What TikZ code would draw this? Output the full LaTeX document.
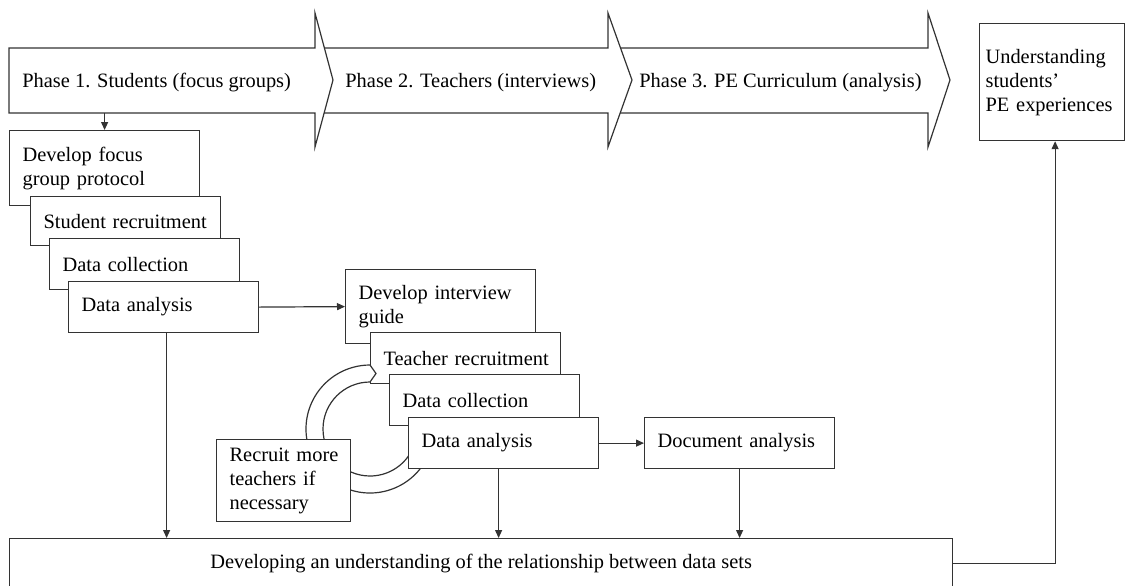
\documentclass[tikz,border=0pt]{standalone}
\usepackage{fontspec}
\setmainfont{Liberation Serif}
\usetikzlibrary{arrows.meta}

\begin{document}
\begin{tikzpicture}[
    x=0.5pt,
    y=-0.5pt,
    font=\fontsize{10.2}{12}\selectfont,
    stage/.style={
        draw=black!80,
        fill=white,
        line width=0.6pt,
        anchor=north west,
        align=left,
        inner xsep=6.5pt,
        inner ysep=0pt,
        text width=82pt,
        minimum height=25.5pt
    },
    band/.style={
        draw=black!80,
        fill=white,
        line width=0.6pt
    },
    phase/.style={
        anchor=west,
        inner sep=0pt
    },
    link/.style={
        -{Triangle[length=4pt,width=3.5pt]},
        line width=0.6pt,
        draw=black!80
    }
]
    \useasboundingbox (0,0) rectangle (1125,585);

    % Phase arrows (drawn back to front)
    \draw[band] (608,48) -- (928,48) -- (928,13) -- (950,80) -- (928,147) -- (928,113) -- (608,113) -- cycle;
    \draw[band] (315,48) -- (608,48) -- (608,13) -- (632,80) -- (608,147) -- (608,113) -- (315,113) -- cycle;
    \draw[band] (9,48) -- (315,48) -- (315,13) -- (333,80) -- (315,147) -- (315,113) -- (9,113) -- cycle;
    \node[phase] (ph1) at (22,83) {Phase 1. Students (focus groups)};
    \node[phase] (ph2) at (345,83) {Phase 2. Teachers (interviews)};
    \node[phase] (ph3) at (639,83) {Phase 3. PE Curriculum (analysis)};
    \coordinate (ph1b) at (105,113);

    % Outcome
    \node[stage, inner xsep=3pt, text width=66.5pt, minimum height=58.5pt] (under) at (979,23) {Understanding\\students'\\PE experiences};

    % Student steps
    \node[stage, minimum height=37.5pt] (focus) at (9,130) {Develop focus\\group protocol};
    \node[stage, minimum height=24.5pt] (srecruit) at (30,196) {\mbox{Student recruitment}};
    \node[stage] (scollect) at (49,238) {Data collection};
    \node[stage] (sanalyse) at (68,281) {Data analysis};

    % Teacher steps
    \node[stage, minimum height=37pt] (guide) at (345,269) {Develop interview\\guide};
    \node[stage] (trecruit) at (370,332) {\mbox{Teacher recruitment}};

    % Loop back to recruitment
    \coordinate (loopc) at (370,429);
    \draw[band] ([shift={(30:64)}]loopc) arc[start angle=30, end angle=270, radius=64]
        -- ++(6,8.5) -- ++(-6,8.5) arc[start angle=270, end angle=30, radius=47] -- cycle;

    \node[stage] (tcollect) at (389,374) {Data collection};
    \node[stage] (tanalyse) at (408,417) {Data analysis};
    \node[stage, text width=54pt, minimum height=41pt] (more) at (216,439) {\mbox{Recruit more}\\\mbox{teachers if}\\necessary};

    % Curriculum
    \node[stage] (docs) at (644,417) {Document analysis};

    % Combined data
    \node[band, anchor=north west, minimum width=471.5pt, minimum height=25pt] (combine) at (9,538) {Developing an understanding of the relationship between data sets};

    % Connections
    \draw[link] (focus.north |- ph1b) -- (focus.north);
    \draw[link] (sanalyse.east) -- (guide.west);
    \draw[link] (tanalyse.east) -- (docs.west);
    \draw[link] ([xshift=1.5pt]sanalyse.south) -- ([xshift=1.5pt]sanalyse.south |- combine.north);
    \draw[link] ([xshift=-2.5pt]tanalyse.south) -- ([xshift=-2.5pt]tanalyse.south |- combine.north);
    \draw[link] (docs.south) -- (docs.south |- combine.north);
    \draw[link] (combine.east) -| ([xshift=1.5pt]under.south);

\end{tikzpicture}
\end{document}
